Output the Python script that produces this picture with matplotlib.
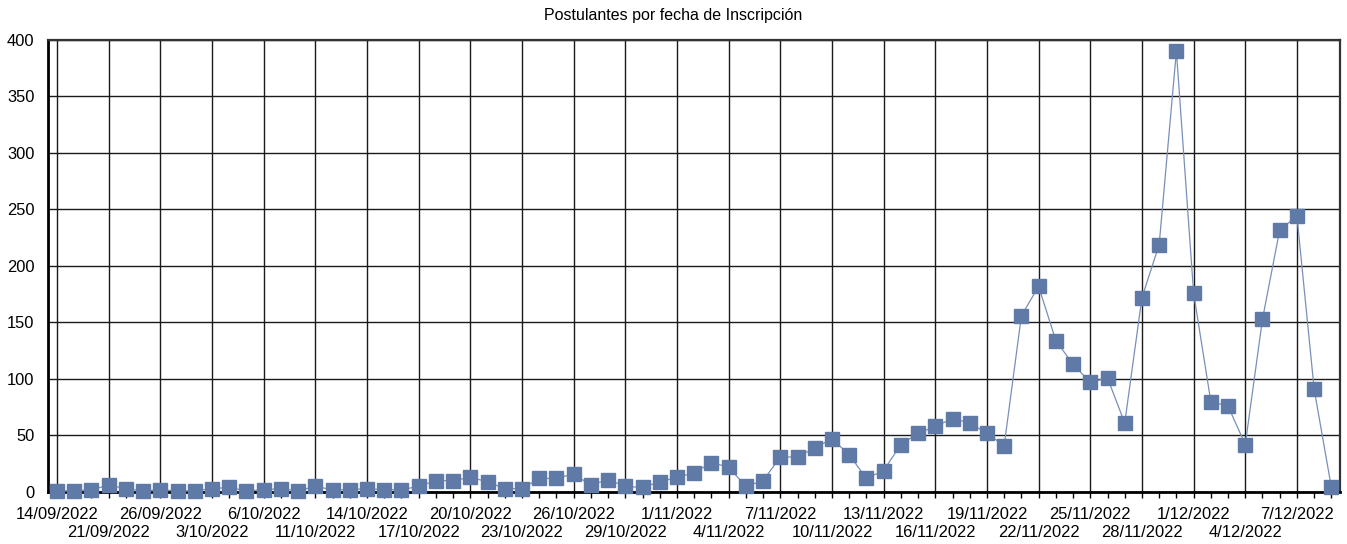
import matplotlib
matplotlib.use("Agg")
import matplotlib.pyplot as plt
from matplotlib.ticker import FixedLocator, MultipleLocator

# Registration dates (only dates with activity) and applicants per date
fechas = [
    "14/09/2022", "15/09/2022", "20/09/2022", "21/09/2022", "22/09/2022", "23/09/2022",
    "26/09/2022", "27/09/2022", "28/09/2022", "3/10/2022", "4/10/2022", "5/10/2022",
    "6/10/2022", "7/10/2022", "10/10/2022", "11/10/2022", "12/10/2022", "13/10/2022",
    "14/10/2022", "15/10/2022", "16/10/2022", "17/10/2022", "18/10/2022", "19/10/2022",
    "20/10/2022", "21/10/2022", "22/10/2022", "23/10/2022", "24/10/2022", "25/10/2022",
    "26/10/2022", "27/10/2022", "28/10/2022", "29/10/2022", "30/10/2022", "31/10/2022",
    "1/11/2022", "2/11/2022", "3/11/2022", "4/11/2022", "5/11/2022", "6/11/2022",
    "7/11/2022", "8/11/2022", "9/11/2022", "10/11/2022", "11/11/2022", "12/11/2022",
    "13/11/2022", "14/11/2022", "15/11/2022", "16/11/2022", "17/11/2022", "18/11/2022",
    "19/11/2022", "20/11/2022", "21/11/2022", "22/11/2022", "23/11/2022", "24/11/2022",
    "25/11/2022", "26/11/2022", "27/11/2022", "28/11/2022", "29/11/2022", "30/11/2022",
    "1/12/2022", "2/12/2022", "3/12/2022", "4/12/2022", "5/12/2022", "6/12/2022",
    "7/12/2022", "8/12/2022", "9/12/2022",
]
postulantes = [
    1, 1, 2, 6, 3, 1, 2, 1, 1, 3, 4, 1,
    2, 3, 1, 5, 2, 2, 3, 2, 2, 5, 10, 10,
    13, 9, 3, 3, 12, 12, 16, 6, 11, 5, 4, 9,
    13, 17, 26, 22, 5, 10, 31, 31, 39, 47, 33, 12,
    19, 42, 52, 58, 65, 61, 52, 41, 156, 182, 134, 113,
    97, 101, 61, 172, 219, 390, 176, 80, 76, 42, 153, 232,
    244, 91, 4,
]
titulo = "Postulantes por fecha de Inscripción"

plt.rcParams["font.family"] = ["Liberation Sans", "DejaVu Sans"]
fs = 11.9

fig = plt.figure(figsize=(13.47, 5.44), dpi=100)
ax = fig.add_axes([0.0359, 0.0956, 0.9589, 0.8309])

color = "#5f7aa6"
x = list(range(len(fechas)))
ax.plot(x, postulantes, color="#7890b8", linewidth=0.9, zorder=4, clip_on=False)
ax.plot(x, postulantes, linestyle="none", marker="s", markersize=9.8,
        markerfacecolor=color, markeredgecolor=color, zorder=5, clip_on=False)

ax.set_xlim(-0.5, len(fechas) - 0.5)
ax.set_ylim(0, 400)

# Every third date gets a gridline; labels alternate between two rows
major = x[::3]
fila1 = major[::2]
fila2 = major[1::2]

ax.xaxis.set_major_locator(FixedLocator(major))
ax.xaxis.set_minor_locator(FixedLocator(x))
ax.set_xticklabels(["" for _ in major])
ax.tick_params(axis="x", which="both", length=4, width=1, direction="out", color="black")

sec1 = ax.secondary_xaxis("bottom")
sec1.set_xticks(fila1, [fechas[p] for p in fila1])
sec1.tick_params(axis="x", length=0, pad=10.5, labelsize=fs)
sec1.spines["bottom"].set_visible(False)

sec2 = ax.secondary_xaxis("bottom")
sec2.set_xticks(fila2, [fechas[p] for p in fila2])
sec2.tick_params(axis="x", length=0, pad=24, labelsize=fs)
sec2.spines["bottom"].set_visible(False)

ax.yaxis.set_major_locator(MultipleLocator(50))
ax.tick_params(axis="y", length=0, pad=10, labelsize=fs)

ax.grid(True, which="major", color="#1a1a1a", linewidth=1.0)
ax.set_axisbelow(True)
for s in ax.spines.values():
    s.set_color("#333333")
    s.set_linewidth(1.6)
ax.spines["left"].set_color("black")
ax.spines["bottom"].set_color("black")
ax.spines["left"].set_linewidth(2)
ax.spines["bottom"].set_linewidth(2)

fig.text(0.5, 0.972, titulo, ha="center", va="center", fontsize=11.5)

fig.savefig("out.png", dpi=100)
